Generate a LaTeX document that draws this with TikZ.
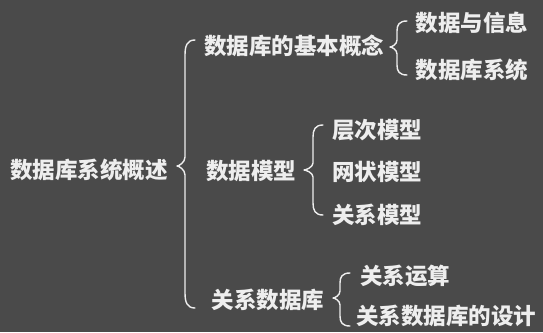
\documentclass[tikz,border=0pt]{standalone}
\usepackage{fontspec}
\setmainfont{Noto Sans CJK SC}
\definecolor{bgc}{RGB}{74,74,74}
\definecolor{fgc}{RGB}{238,238,238}
\tikzset{
  lbl/.style={inner sep=0pt, text=fgc, font=\fontsize{22.5}{24}\selectfont\bfseries},
  brc/.style={draw=fgc, line width=1.4pt, line cap=round, line join=round}
}
% brace: xe, ytop, xv, r, xtip, ytip, r2, ybot
\newcommand{\mybrace}[8]{%
  \draw[brc] (#1,#2) .. controls (#3+2,#2) and (#3,#2+#4*0.4) .. (#3,#2+#4)
     -- (#3,#6-#7) .. controls (#3,#6-#7*0.4) and (#5+2,#6) .. (#5,#6)
     .. controls (#5+2,#6) and (#3,#6+#7*0.4) .. (#3,#6+#7)
     -- (#3,#8-#4) .. controls (#3,#8-#4*0.4) and (#3+2,#8) .. (#1,#8);}
\begin{document}
\begin{tikzpicture}[x=1pt,y=-1pt]
\fill[bgc] (0,0) rectangle (543,332);
\useasboundingbox (0,0) rectangle (543,332);
\node[lbl] (root) at (89,170) {数据库系统概述};
\node[lbl] (n1) at (294,46) {数据库的基本概念};
\node[lbl] (n1a) at (472,23) {数据与信息};
\node[lbl] (n1b) at (472,70) {数据库系统};
\node[lbl] (n2) at (251,171) {数据模型};
\node[lbl] (n2a) at (377,130) {层次模型};
\node[lbl] (n2b) at (377,172) {网状模型};
\node[lbl] (n2c) at (377,215) {关系模型};
\node[lbl] (n3) at (268,300) {关系数据库};
\node[lbl] (n3a) at (405,276) {关系运算};
\node[lbl] (n3b) at (446,316) {关系数据库的设计};
\mybrace{195}{40}{185}{15}{177}{166}{9}{308}
\mybrace{407}{21}{397}{10}{390}{47}{7}{75}
\mybrace{323}{125}{313}{12}{304}{170}{7}{215}
\mybrace{350}{273}{340}{10}{333}{298}{7}{326}
\end{tikzpicture}
\end{document}
